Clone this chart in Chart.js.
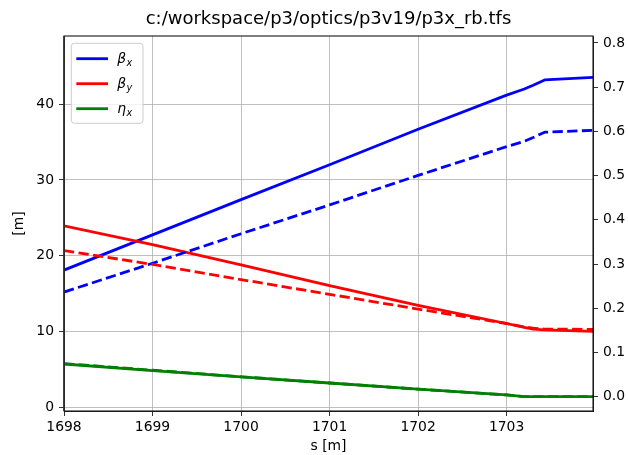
<!DOCTYPE html>
<html>
<head>
<meta charset="utf-8">
<script src="https://cdn.jsdelivr.net/npm/chart.js@4/dist/chart.umd.min.js"></script>
<style>
  html, body { margin: 0; padding: 0; background: #ffffff; }
  #wrap { width: 628px; height: 455px; }
</style>
</head>
<body>
<div id="wrap"><canvas id="optics" width="628" height="455"></canvas></div>
<script>
// Lattice functions along s
const titleText = 'c:/workspace/p3/optics/p3v19/p3x_rb.tfs';
const sPos = [1698.0, 1699.0, 1700.0, 1701.0, 1702.0, 1703.0, 1703.2, 1703.3, 1703.43, 1703.976];

// first table (solid lines)
const betxSolid = [18.1, 22.75, 27.4, 32.0, 36.7, 41.2, 42.0, 42.5, 43.2, 43.55];
const betySolid = [23.95, 21.45, 18.8, 16.05, 13.45, 11.05, 10.55, 10.3, 10.2, 10.0];
const dxSolid   = [0.074, 0.059, 0.045, 0.031, 0.017, 0.004, 0.0, 0.0, 0.0, 0.0];

// second table (dashed lines)
const betxDashed = [15.2, 19.0, 22.9, 26.7, 30.6, 34.4, 35.1, 35.6, 36.3, 36.55];
const betyDashed = [20.67, 18.85, 16.85, 14.9, 12.95, 11.05, 10.6, 10.45, 10.3, 10.28];
const dxDashed   = [0.075, 0.060, 0.045, 0.031, 0.017, 0.004, 0.0, 0.0, 0.0, 0.0];

// tick positions
const sTicks = [1698, 1699, 1700, 1701, 1702, 1703];
const betaTicks = [0, 10, 20, 30, 40];
const dispTicks = [0.0, 0.1, 0.2, 0.3, 0.4, 0.5, 0.6, 0.7, 0.8];

// legend entries: symbol + subscript
const legendSymbols = ['β', 'β', 'η'];
const legendSubs = ['x', 'y', 'x'];
const legendColors = ['#0000ff', '#ff0000', '#008000'];

const FONT = 'DejaVu Sans';
const LW = 2.8;
const DASH = [10.3, 4.4];

function pts(arr) { return sPos.map((s, i) => ({ x: s, y: arr[i] })); }

const seriesList = [
  { label: 'βx', data: betxSolid, color: '#0000ff', axis: 'y', dash: [] },
  { label: 'βy', data: betySolid, color: '#ff0000', axis: 'y', dash: [] },
  { label: 'ηx', data: dxSolid, color: '#008000', axis: 'y2', dash: [] },
  { label: 'βx (2)', data: betxDashed, color: '#0000ff', axis: 'y', dash: DASH },
  { label: 'βy (2)', data: betyDashed, color: '#ff0000', axis: 'y', dash: DASH },
  { label: 'ηx (2)', data: dxDashed, color: '#008000', axis: 'y2', dash: DASH }
];

const datasets = seriesList.map((d, i) => ({
  label: d.label,
  data: pts(d.data),
  yAxisID: d.axis,
  borderColor: d.color,
  backgroundColor: d.color,
  borderWidth: LW,
  borderDash: d.dash,
  borderJoinStyle: 'round',
  borderCapStyle: 'butt',
  pointRadius: 0,
  pointHoverRadius: 0,
  tension: 0,
  fill: false,
  clip: 0,
  order: seriesList.length - i   // later series drawn on top
}));

// axes frame drawn over the curves
const framePlugin = {
  id: 'frame',
  afterDatasetsDraw(chart) {
    const { ctx, chartArea: a } = chart;
    ctx.save();
    ctx.strokeStyle = '#000000';
    ctx.lineWidth = 1;
    ctx.strokeRect(a.left, a.top, a.right - a.left, a.bottom - a.top);
    ctx.lineWidth = 1.6;
    ctx.strokeStyle = '#333333';
    ctx.beginPath();
    ctx.moveTo(a.left, a.top);
    ctx.lineTo(a.left, a.bottom);
    ctx.stroke();
    ctx.restore();
  }
};

// legend with subscripted symbols
const mathLegend = {
  id: 'mathLegend',
  afterDraw(chart) {
    const { ctx, chartArea: a } = chart;
    const x0 = a.left + 7.3, y0 = a.top + 7.3, w = 71.7, h = 80, r = 3;
    ctx.save();
    ctx.beginPath();
    ctx.moveTo(x0 + r, y0);
    ctx.lineTo(x0 + w - r, y0);
    ctx.arcTo(x0 + w, y0, x0 + w, y0 + r, r);
    ctx.lineTo(x0 + w, y0 + h - r);
    ctx.arcTo(x0 + w, y0 + h, x0 + w - r, y0 + h, r);
    ctx.lineTo(x0 + r, y0 + h);
    ctx.arcTo(x0, y0 + h, x0, y0 + h - r, r);
    ctx.lineTo(x0, y0 + r);
    ctx.arcTo(x0, y0, x0 + r, y0, r);
    ctx.closePath();
    ctx.fillStyle = 'rgba(255,255,255,0.8)';
    ctx.fill();
    ctx.strokeStyle = '#cccccc';
    ctx.lineWidth = 1;
    ctx.stroke();

    legendSymbols.forEach((sym, i) => {
      const ly = y0 + 15.4 + i * 25;
      ctx.beginPath();
      ctx.strokeStyle = legendColors[i];
      ctx.lineWidth = LW;
      ctx.moveTo(x0 + 5, ly);
      ctx.lineTo(x0 + 36.7, ly);
      ctx.stroke();

      ctx.fillStyle = '#000000';
      ctx.textAlign = 'left';
      ctx.textBaseline = 'alphabetic';
      ctx.font = 'italic 13.9px "' + FONT + '"';
      const tx = x0 + 46;
      ctx.fillText(sym, tx, ly + 4.5);
      const sw = ctx.measureText(sym).width;
      ctx.font = 'italic 9.7px "' + FONT + '"';
      ctx.fillText(legendSubs[i], tx + sw + 0.3, ly + 6.8);
    });
    ctx.restore();
  }
};

const tickFont = { family: FONT, size: 13.9 };

new Chart(document.getElementById('optics'), {
  type: 'line',
  data: { datasets },
  plugins: [framePlugin, mathLegend],
  options: {
    responsive: false,
    animation: false,
    devicePixelRatio: 1,
    layout: { padding: 0 },
    interaction: { mode: null },
    plugins: {
      legend: { display: false },
      tooltip: { enabled: false },
      title: {
        display: true,
        text: titleText,
        fullSize: false,
        color: '#000000',
        font: { family: FONT, size: 18, weight: 'normal' },
        padding: { top: 8.9, bottom: 5.5 }
      }
    },
    scales: {
      x: {
        type: 'linear',
        min: 1698,
        max: 1703.976,
        afterFit(s) { s.height = 44; },
        afterBuildTicks(s) { s.ticks = sTicks.map(v => ({ value: v })); },
        ticks: {
          font: tickFont, color: '#000000', padding: 3.2,
          maxRotation: 0, autoSkip: false,
          callback: v => String(v)
        },
        grid: { color: '#b0b0b0', lineWidth: 0.8, tickColor: '#000000', tickLength: 5, tickWidth: 0.8 },
        border: { color: '#000000', width: 0.8 },
        title: { display: true, text: 's [m]', color: '#000000', font: tickFont, padding: { top: 0, bottom: 0 } }
      },
      y: {
        type: 'linear',
        position: 'left',
        min: -0.5,
        max: 49.0,
        afterFit(s) { s.width = 64; },
        afterBuildTicks(s) { s.ticks = betaTicks.map(v => ({ value: v })); },
        ticks: { font: tickFont, color: '#000000', padding: 5, callback: v => String(v) },
        grid: { color: '#b0b0b0', lineWidth: 0.8, tickColor: '#000000', tickLength: 5, tickWidth: 0.8 },
        border: { color: '#000000', width: 0.8 },
        title: { display: true, text: '[m]', color: '#000000', font: tickFont, padding: { top: 11.3, bottom: 0 } }
      },
      y2: {
        type: 'linear',
        position: 'right',
        min: -0.0323,
        max: 0.8158,
        afterFit(s) { s.width = 35; },
        afterBuildTicks(s) { s.ticks = dispTicks.map(v => ({ value: v })); },
        ticks: { font: tickFont, color: '#000000', padding: 5, callback: v => Number(v).toFixed(1) },
        grid: { drawOnChartArea: false, tickColor: '#000000', tickLength: 5, tickWidth: 0.8 },
        border: { color: '#000000', width: 0.8 }
      }
    }
  }
});
</script>
</body>
</html>
